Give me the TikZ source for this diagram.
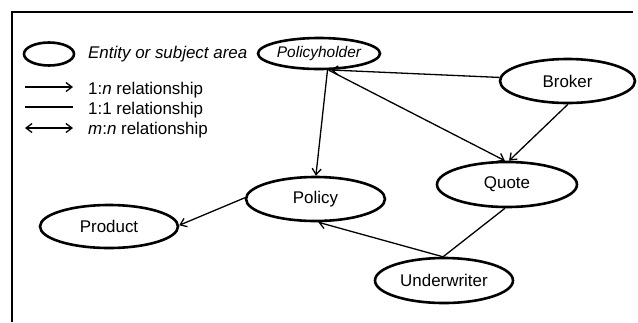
\documentclass[tikz,border=0pt]{standalone}
\usepackage{fontspec}
\setmainfont{Liberation Sans}
\usetikzlibrary{shapes.geometric,arrows.meta}

\begin{document}
\begin{tikzpicture}[x=1bp,y=-1bp,
  entity/.style={ellipse,draw,line width=2.6bp,inner sep=0pt,
    minimum width=138bp,minimum height=44bp,
    font=\fontsize{17}{20}\selectfont},
  legtext/.style={anchor=west,inner sep=0pt,font=\fontsize{17}{20}\selectfont},
  link/.style={line width=1.3bp},
  tip/.style={-{Straight Barb[length=6bp,width=9bp,line width=1.3bp]}},
  bitip/.style={{Straight Barb[length=6bp,width=9bp,line width=1.3bp]}-{Straight Barb[length=6bp,width=9bp,line width=1.3bp]}},
  frame/.style={line width=2.6bp}]

\useasboundingbox (0,0) rectangle (638,322);

% outer frame (top and left edges)
\draw[frame] (12,322) -- (12,12) -- (633,12);

% legend
\node[entity,minimum width=50bp,minimum height=23bp] (legent) at (49,54) {};
\node[legtext] (legentt) at (88,54) {\itshape Entity or subject area};
\coordinate (la1) at (25,87);  \coordinate (lb1) at (73,87);
\coordinate (la2) at (25,107); \coordinate (lb2) at (73,107);
\coordinate (la3) at (25,128); \coordinate (lb3) at (73,128);
\draw[link,tip] (la1) -- (lb1);
\draw[link] (la2) -- (lb2);
\draw[link,bitip] (la3) -- (lb3);
\node[legtext] (leg1) at (88,90) {1:\textit{n} relationship};
\node[legtext] (leg2) at (88,110) {1:1 relationship};
\node[legtext] (leg3) at (88,130) {\textit{m}:\textit{n} relationship};

% entities
\node[entity,minimum width=122bp,minimum height=31bp,
      font=\fontsize{15.5}{18}\selectfont\itshape] (ph) at (319,53.5) {Policyholder};
\node[entity,minimum width=135bp] (bro) at (567.5,81) {Broker};
\node[entity,minimum width=140bp,minimum height=45bp] (quo) at (507,184.5) {Quote};
\node[entity,minimum width=139bp] (pol) at (315.5,199) {Policy};
\node[entity,minimum height=43bp] (prod) at (109,226.5) {Product};
\node[entity,minimum height=45bp] (uw) at (444,280.5) {Underwriter};

% relationships
\draw[link,tip] (ph.-63) -- (pol.89);
\draw[link,tip] (bro.177.5) -- (ph.-54);
\draw[link,tip] (ph.-60) -- (quo.95);
\draw[link,tip] (bro.-89) -- (quo.85);
\draw[link] (quo.-95) -- (uw.92.5);
\draw[link,tip] (uw.93) -- (pol.-83.5);
\draw[link,tip] (pol.179) -- (prod.1);
\end{tikzpicture}
\end{document}
